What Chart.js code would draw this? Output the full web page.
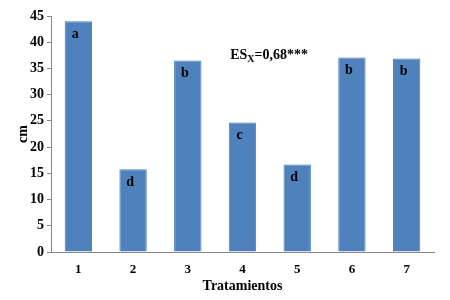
<!DOCTYPE html>
<html>
<head>
<meta charset="utf-8">
<script src="https://cdn.jsdelivr.net/npm/chart.js@4"></script>
<style>
  html, body { margin: 0; padding: 0; background: #fff; }
  #wrap { width: 450px; height: 300px; }
</style>
</head>
<body>
<div id="wrap"><canvas id="chart" width="450" height="300"></canvas></div>
<script>
/* Plant height by treatment */
var treatments = ["1", "2", "3", "4", "5", "6", "7"];
var heights = [44.0, 15.8, 36.5, 24.7, 16.7, 37.1, 36.9];
var letters = ["a", "d", "b", "c", "d", "b", "b"];
var yTicks = [0, 5, 10, 15, 20, 25, 30, 35, 40, 45];

var SERIF = "'Liberation Serif', 'Times New Roman', serif";

/* Letters inside the bars and the ESx note */
var labelsPlugin = {
    id: "letters",
    afterDatasetsDraw: function (chart) {
        var ctx = chart.ctx;
        var meta = chart.getDatasetMeta(0);
        ctx.save();
        ctx.fillStyle = "#000";
        ctx.font = "bold 14px " + SERIF;
        ctx.textAlign = "center";
        ctx.textBaseline = "top";
        meta.data.forEach(function (bar, i) {
            ctx.fillText(letters[i], bar.x - 3, bar.y + 6);
        });

        var xs = chart.scales.x, ys = chart.scales.y;
        // between treatments 3 and 4, shifted right a little
        var tx = (xs.getPixelForValue(2) + xs.getPixelForValue(3)) / 2 + 15;
        var ty = ys.getPixelForValue(36.8);
        ctx.textAlign = "left";
        ctx.textBaseline = "alphabetic";
        ctx.font = "bold 14px " + SERIF;
        ctx.fillText("ES", tx, ty);
        var w = ctx.measureText("ES").width;
        ctx.font = "bold 10px " + SERIF;
        ctx.fillText("X", tx + w, ty + 3);
        var w2 = ctx.measureText("X").width;
        ctx.font = "bold 14px " + SERIF;
        ctx.fillText("=0,68***", tx + w + w2, ty);
        ctx.restore();
    }
};

new Chart(document.getElementById("chart").getContext("2d"), {
    type: "bar",
    data: {
        labels: treatments,
        datasets: [{
            data: heights,
            backgroundColor: "#4f81bd",
            borderColor: "#4a7ebb",
            borderWidth: 1,
            categoryPercentage: 1.0,
            barPercentage: 0.5
        }]
    },
    options: {
        responsive: false,
        animation: false,
        layout: { padding: { top: 16, right: 16, bottom: 5, left: 0 } },
        plugins: {
            legend: { display: false },
            tooltip: { enabled: false }
        },
        scales: {
            x: {
                afterFit: function (s) { s.height = 43; },
                grid: { display: false },
                border: { color: "#868686", width: 1 },
                ticks: { color: "#000", font: { family: SERIF, size: 13, weight: "bold" }, padding: 2 },
                title: {
                    display: true, text: "Tratamientos", color: "#000",
                    font: { family: SERIF, size: 14, weight: "bold" }, padding: { top: 0, bottom: 0 }
                }
            },
            y: {
                min: 0, max: 45,
                afterBuildTicks: function (s) { s.ticks = yTicks.map(function (v) { return { value: v }; }); },
                afterFit: function (s) { s.width = 51; },
                grid: { drawOnChartArea: false, tickLength: 4, color: "#868686" },
                border: { color: "#868686", width: 1 },
                ticks: { color: "#000", font: { family: SERIF, size: 14, weight: "bold" }, padding: 3 },
                title: {
                    display: true, text: "cm", color: "#000",
                    font: { family: SERIF, size: 14, weight: "bold" }, padding: { top: 15, bottom: 0 }
                }
            }
        }
    },
    plugins: [labelsPlugin]
});
</script>
</body>
</html>
